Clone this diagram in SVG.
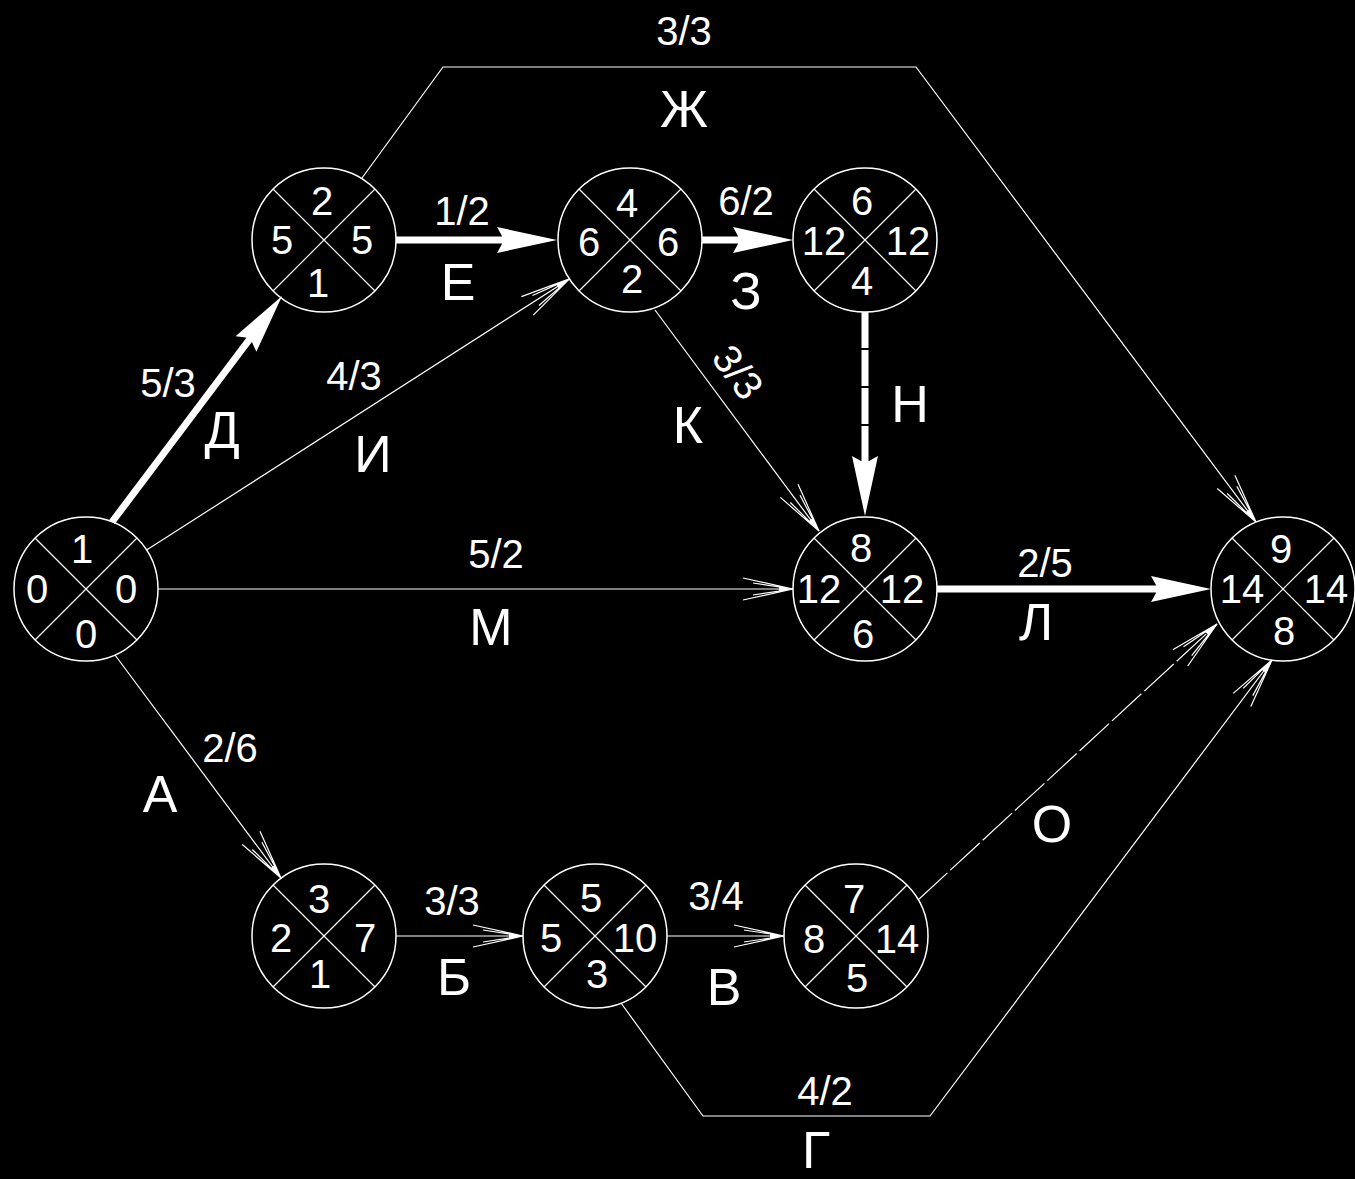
<svg xmlns="http://www.w3.org/2000/svg" xmlns:xlink="http://www.w3.org/1999/xlink" width="1355" height="1179" viewBox="0 0 1355 1179">
<style>
.c{fill:none;stroke:#fff;stroke-width:1.5}
.x{stroke:#fff;stroke-width:1.2}
.n{fill:#fff;font-family:"Liberation Sans",Arial,sans-serif;font-size:40px;text-anchor:middle}
.l{fill:#fff;font-family:"Liberation Sans",Arial,sans-serif;font-size:40px;text-anchor:middle}
.L{fill:#fff;font-family:"Liberation Sans",Arial,sans-serif;font-size:52px;text-anchor:middle}
.t{fill:none;stroke:#fff;stroke-width:1.2}
.k{fill:none;stroke:#fff;stroke-width:7}
</style>
<defs>
<marker id="ta" markerUnits="userSpaceOnUse" orient="auto" refX="0" refY="0" markerWidth="60" markerHeight="30" viewBox="-55 -15 60 30" overflow="visible">
<path d="M-50,-11 L0,0 L-50,11 M-40,-6 L0,0 L-40,6" fill="none" stroke="#fff" stroke-width="1.2"/>
<path d="M-14,-2.5 L0,0 L-14,2.5 Z" fill="#fff"/>
</marker>
<marker id="ka" markerUnits="userSpaceOnUse" orient="auto" refX="0" refY="0" markerWidth="70" markerHeight="30" viewBox="-20 -15 70 30" overflow="visible">
<path d="M45,0 L-15,-13 L-10,-4 L-10,4 L-15,13 Z" fill="#fff"/>
</marker>
</defs>
<rect width="1355" height="1179" fill="#000"/>

<g id="connectors">
<path class="k" d="M112,522 L255,332" marker-end="url(#ka)"/>
<path class="k" d="M396,240 L512,240" marker-end="url(#ka)"/>
<path class="k" d="M702,240 L748,240" marker-end="url(#ka)"/>
<path class="k" d="M865,312 L865,471" stroke-dasharray="36,2" marker-end="url(#ka)"/>
<path class="k" d="M937,589 L1166,589" marker-end="url(#ka)"/>
<path class="t" d="M146.6,550.1 L569.4,278.9" marker-end="url(#ta)"/>
<path class="t" d="M158,589 L793,589" marker-end="url(#ta)"/>
<path class="t" d="M115,655 L281,878" marker-end="url(#ta)"/>
<path class="t" d="M655,310 L819,531" marker-end="url(#ta)"/>
<path class="t" d="M396,936 L523,936" marker-end="url(#ta)"/>
<path class="t" d="M667,936 L784,936" marker-end="url(#ta)"/>
<path class="t" d="M918,900 L1217,624" stroke-dasharray="40,4" marker-end="url(#ta)"/>
<path class="t" d="M621,1003 L703,1116 L930,1116 L1272,660" marker-end="url(#ta)"/>
<path class="t" d="M362,178 L443,67 L916,67 L1256,522" marker-end="url(#ta)"/>
</g>

<g id="labels">
<text class="l" x="684" y="45">3/3</text>
<text class="L" x="684" y="127">Ж</text>
<text class="l" x="168" y="397">5/3</text>
<text class="L" x="222" y="448">Д</text>
<text class="l" x="354" y="390">4/3</text>
<text class="L" x="373" y="472">И</text>
<text class="l" x="462" y="225">1/2</text>
<text class="L" x="458" y="300">Е</text>
<text class="l" x="746" y="215">6/2</text>
<text class="L" x="746" y="309">З</text>
<text class="l" transform="translate(738,372) rotate(53.7)" x="0" y="14">3/3</text>
<text class="L" x="688" y="443">К</text>
<text class="L" x="910" y="422">Н</text>
<text class="l" x="496" y="568">5/2</text>
<text class="L" x="491" y="645">М</text>
<text class="l" x="1045" y="577">2/5</text>
<text class="L" x="1036" y="640">Л</text>
<text class="l" x="230" y="762">2/6</text>
<text class="L" x="160" y="812">А</text>
<text class="l" x="452" y="915">3/3</text>
<text class="L" x="454" y="995">Б</text>
<text class="l" x="716" y="910">3/4</text>
<text class="L" x="724" y="1005">В</text>
<text class="L" x="1052" y="842">О</text>
<text class="l" x="825" y="1105">4/2</text>
<text class="L" x="816" y="1168">Г</text>
</g>

<g id="node1" transform="translate(86,589)">
<circle class="c" r="72"/><path class="x" d="M-51,-51 L51,51 M51,-51 L-51,51"/>
<text class="n" x="-4" y="-26">1</text><text class="n" x="-49" y="14">0</text><text class="n" x="40" y="14">0</text><text class="n" x="0" y="59">0</text>
</g>
<g id="node2" transform="translate(324,240)">
<circle class="c" r="72"/><path class="x" d="M-51,-51 L51,51 M51,-51 L-51,51"/>
<text class="n" x="-2" y="-25">2</text><text class="n" x="-42" y="14">5</text><text class="n" x="38" y="14">5</text><text class="n" x="-6" y="57">1</text>
</g>
<g id="node4" transform="translate(630,240)">
<circle class="c" r="72"/><path class="x" d="M-51,-51 L51,51 M51,-51 L-51,51"/>
<text class="n" x="-3" y="-23">4</text><text class="n" x="-41" y="16">6</text><text class="n" x="38" y="16">6</text><text class="n" x="2" y="53">2</text>
</g>
<g id="node6" transform="translate(865,240)">
<circle class="c" r="72"/><path class="x" d="M-51,-51 L51,51 M51,-51 L-51,51"/>
<text class="n" x="-3" y="-25">6</text><text class="n" x="-41" y="15">12</text><text class="n" x="43" y="15">12</text><text class="n" x="-3" y="55">4</text>
</g>
<g id="node8" transform="translate(865,589)">
<circle class="c" r="72"/><path class="x" d="M-51,-51 L51,51 M51,-51 L-51,51"/>
<text class="n" x="-4" y="-27">8</text><text class="n" x="-46" y="14">12</text><text class="n" x="37" y="14">12</text><text class="n" x="-2" y="59">6</text>
</g>
<g id="node9" transform="translate(1283,589)">
<circle class="c" r="72"/><path class="x" d="M-51,-51 L51,51 M51,-51 L-51,51"/>
<text class="n" x="-2" y="-26">9</text><text class="n" x="-41" y="14">14</text><text class="n" x="43" y="14">14</text><text class="n" x="1" y="56">8</text>
</g>
<g id="node3" transform="translate(324,936)">
<circle class="c" r="72"/><path class="x" d="M-51,-51 L51,51 M51,-51 L-51,51"/>
<text class="n" x="-5" y="-23">3</text><text class="n" x="-43" y="16">2</text><text class="n" x="41" y="16">7</text><text class="n" x="-4" y="52">1</text>
</g>
<g id="node5" transform="translate(595,936)">
<circle class="c" r="72"/><path class="x" d="M-51,-51 L51,51 M51,-51 L-51,51"/>
<text class="n" x="-4" y="-24">5</text><text class="n" x="-44" y="16">5</text><text class="n" x="40" y="16">10</text><text class="n" x="2" y="52">3</text>
</g>
<g id="node7" transform="translate(856,936)">
<circle class="c" r="72"/><path class="x" d="M-51,-51 L51,51 M51,-51 L-51,51"/>
<text class="n" x="-2" y="-23">7</text><text class="n" x="-42" y="17">8</text><text class="n" x="41" y="17">14</text><text class="n" x="1" y="56">5</text>
</g>
</svg>
